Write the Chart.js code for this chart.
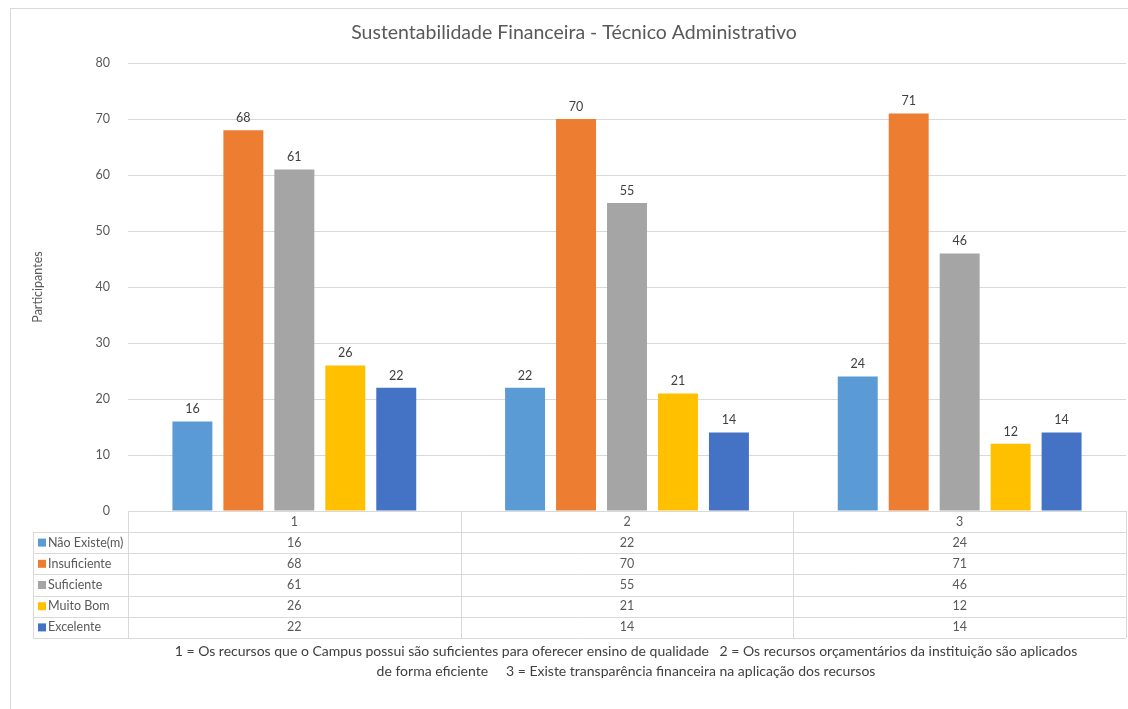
<!DOCTYPE html>
<html>
<head>
<meta charset="utf-8">
<script src="https://cdn.jsdelivr.net/npm/chart.js@4"></script>
<style>
  html, body { margin: 0; padding: 0; background: #fff; }
  #wrap { width: 1128px; height: 709px; position: relative; }
</style>
</head>
<body>
<div id="wrap"><canvas id="chart"></canvas></div>
<script>
const categories = ['1', '2', '3'];
const seriesNames = ['Não Existe(m)', 'Insuficiente', 'Suficiente', 'Muito Bom', 'Excelente'];
const naoExiste = [16, 22, 24];
const insuficiente = [68, 70, 71];
const suficiente = [61, 55, 46];
const muitoBom = [26, 21, 12];
const excelente = [22, 14, 14];
const seriesColors = ['#5B9BD5', '#ED7D31', '#A5A5A5', '#FFC000', '#4472C4'];
const yMax = 80;
const yStep = 10;
const titleText = 'Sustentabilidade Financeira - Técnico Administrativo';
const yTitle = 'Participantes';
const footnote = [
    '1 = Os recursos que o Campus possui são suficientes para oferecer ensino de qualidade   2 = Os recursos orçamentários da instituição são aplicados',
    'de forma eficiente     3 = Existe transparência financeira na aplicação dos recursos'
];

const FONT = 'Lato, "Open Sans", sans-serif';
const seriesValues = [naoExiste, insuficiente, suficiente, muitoBom, excelente];

// table under the plot, labels over bars, title and notes
const extrasPlugin = {
    id: 'extras',
    afterDraw(chart) {
        const ctx = chart.ctx;
        const area = chart.chartArea;
        const x = chart.scales.x;
        const catW = (area.right - area.left) / categories.length;
        const rowH = 21.2;
        const tableLeft = 33;
        const headTop = area.bottom;
        const bodyTop = headTop + 21;

        ctx.save();

        // frame
        ctx.strokeStyle = '#d9d9d9';
        ctx.lineWidth = 1;
        ctx.strokeRect(10.5, 8.5, 1200, 760);

        // title
        ctx.fillStyle = '#595959';
        ctx.font = '19.5px ' + FONT;
        ctx.textAlign = 'center';
        ctx.textBaseline = 'middle';
        ctx.fillText(titleText, 574, 33);

        // y axis title
        ctx.save();
        ctx.translate(38, (area.top + area.bottom) / 2);
        ctx.rotate(-Math.PI / 2);
        ctx.font = '12.5px ' + FONT;
        ctx.fillText(yTitle, 0, 0);
        ctx.restore();

        // data labels
        ctx.fillStyle = '#404040';
        ctx.font = '12.5px ' + FONT;
        ctx.textBaseline = 'bottom';
        chart.data.datasets.forEach((ds, i) => {
            chart.getDatasetMeta(i).data.forEach((bar, j) => {
                ctx.fillText(String(ds.data[j]), bar.x, bar.y - 6);
            });
        });

        // table grid
        ctx.strokeStyle = '#d9d9d9';
        ctx.beginPath();
        ctx.moveTo(area.left, headTop + 0.5);
        ctx.lineTo(area.right, headTop + 0.5);
        for (let r = 0; r <= seriesNames.length; r++) {
            const yy = Math.round(bodyTop + r * rowH) + 0.5;
            ctx.moveTo(tableLeft, yy);
            ctx.lineTo(area.right, yy);
        }
        for (let c = 0; c <= categories.length; c++) {
            const xx = Math.round(area.left + c * catW) + 0.5;
            ctx.moveTo(xx, headTop);
            ctx.lineTo(xx, bodyTop + seriesNames.length * rowH);
        }
        ctx.moveTo(tableLeft + 0.5, bodyTop);
        ctx.lineTo(tableLeft + 0.5, bodyTop + seriesNames.length * rowH);
        ctx.stroke();

        // table text
        ctx.fillStyle = '#595959';
        ctx.font = '12.5px ' + FONT;
        ctx.textBaseline = 'middle';
        ctx.textAlign = 'center';
        categories.forEach((c, j) => {
            ctx.fillText(c, x.getPixelForValue(j), headTop + 11);
        });
        seriesNames.forEach((name, i) => {
            const cy = bodyTop + i * rowH + rowH / 2;
            ctx.fillStyle = seriesColors[i];
            ctx.fillRect(38, cy - 4, 8, 8);
            ctx.fillStyle = '#595959';
            ctx.textAlign = 'left';
            ctx.fillText(name, 48, cy);
            ctx.textAlign = 'center';
            seriesValues[i].forEach((v, j) => {
                ctx.fillText(String(v), x.getPixelForValue(j), cy);
            });
        });

        // footnote
        ctx.fillStyle = '#404040';
        ctx.font = '14px ' + FONT;
        footnote.forEach((line, k) => {
            ctx.fillText(line, 626, 651 + k * 20);
        });

        ctx.restore();
    }
};

const ctx = document.getElementById('chart').getContext('2d');
new Chart(ctx, {
    type: 'bar',
    data: {
        labels: categories,
        datasets: seriesNames.map((name, i) => ({
            label: name,
            data: seriesValues[i],
            backgroundColor: seriesColors[i],
            categoryPercentage: 0.766,
            barPercentage: 0.784
        }))
    },
    options: {
        responsive: true,
        maintainAspectRatio: false,
        animation: false,
        layout: { padding: { top: 63, bottom: 198, left: 10, right: 2 } },
        plugins: {
            legend: { display: false },
            title: { display: false },
            tooltip: { enabled: false }
        },
        scales: {
            x: { display: false },
            y: {
                min: 0,
                max: yMax,
                afterFit(scale) { scale.width = 118; },
                border: { display: false },
                grid: { color: '#d9d9d9', drawTicks: false },
                ticks: {
                    stepSize: yStep,
                    padding: 18,
                    color: '#595959',
                    font: { family: FONT, size: 12.5 }
                }
            }
        }
    },
    plugins: [extrasPlugin]
});
</script>
</body>
</html>
